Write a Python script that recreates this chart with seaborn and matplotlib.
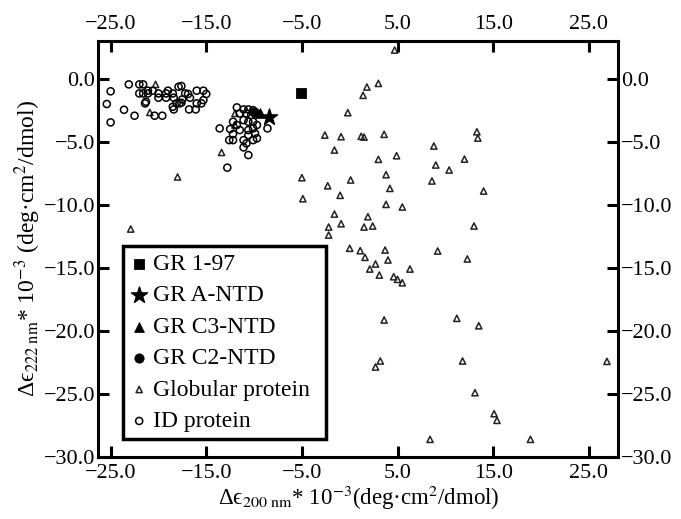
import numpy as np
import pandas as pd
from matplotlib import pyplot as plt
import seaborn as sns

# ID proteins (open circles)
id_x = [-25.0, -25.4, -25.0, -23.6, -23.1, -22.0, -21.6, -22.0, -21.6, -21.1,
        -21.1, -20.6, -20.0, -20.0, -19.2, -19.0, -19.2, -21.3, -21.4, -22.5,
        -20.4, -19.6, -18.5, -17.9, -17.6, -18.4, -17.8, -17.2, -16.9, -16.7,
        -18.5, -18.4, -18.1, -17.5, -17.6, -16.0, -15.3, -15.0, -15.3, -16.0,
        -16.8, -16.1, -15.5,
        -11.8, -11.1, -10.6, -10.1, -11.5, -10.8, -10.3, -9.7, -12.2, -11.8,
        -11.1, -10.6, -10.1, -9.7, -13.6, -12.5, -11.5, -10.6, -10.1, -10.6,
        -9.9, -9.7, -12.2, -12.6, -12.2, -11.1, -10.8, -10.1, -11.1, -10.6,
        -12.8, -8.6]
id_y = [-0.95, -1.96, -3.42, -2.42, -0.40, -0.40, -0.40, -1.12, -1.12, -0.90,
        -1.12, -0.90, -1.12, -1.46, -1.12, -0.90, -1.46, -1.78, -1.91, -2.89,
        -2.89, -2.89, -1.12, -0.59, -0.53, -1.46, -1.91, -1.12, -1.16, -1.46,
        -2.18, -2.39, -1.91, -1.59, -1.86, -0.90, -0.90, -1.16, -1.65, -1.91,
        -2.39, -2.39, -1.91,
        -2.23, -2.39, -2.39, -2.45, -2.71, -2.71, -2.84, -2.71, -3.37, -3.63,
        -3.24, -3.37, -3.37, -3.63, -3.90, -3.95, -4.03, -4.03, -3.90, -4.43,
        -4.30, -4.69, -4.35, -4.83, -4.83, -4.83, -5.09, -4.83, -5.41, -6.02,
        -7.02, -3.90]

# globular proteins (open triangles)
glob_x = [-20.3, -20.9, -12.0, -12.0, -13.4, -18.0, -22.9,
          4.7, 3.0, 1.8, 1.4, -0.2, -2.6, -0.9, 1.2, 1.5, 3.6, -1.6, 3.0, 4.9,
          8.8, 13.3, 13.4, 12.0, 9.0, 10.4, 8.6, 14.0, -5.0, -4.9, -2.3, 0.1,
          -1.0, 3.8, 4.2, 3.8, 5.5, -1.6, -0.9, -2.2, -2.2, 1.9, 1.5, 2.4, 13.0,
          0.0, 1.1, 1.6, 3.7, 4.0, 2.7, 2.1, 3.1, 6.3, 4.6, 5.0, 5.5, 9.2, 12.3,
          3.6, 11.2, 13.5, 3.2, 2.7, 11.8, 13.1, 15.1, 15.4, 8.4, 26.9, 18.9]
glob_y = [-0.40, -2.63, -2.71, -3.63, -5.81, -7.76, -11.90,
          2.33, -0.32, -0.61, -1.27, -2.65, -4.43, -4.56, -4.53, -4.59, -4.37,
          -5.62, -6.36, -6.07, -5.30, -4.17, -4.67, -6.34, -6.81, -7.21, -8.08,
          -8.88, -7.82, -9.49, -8.46, -8.00, -9.22, -7.58, -8.67, -9.94, -10.15,
          -10.71, -11.48, -11.74, -12.38, -10.92, -11.74, -11.66, -11.66,
          -13.43, -13.62, -14.15, -13.57, -14.36, -14.68, -15.08, -15.56, -15.08,
          -15.69, -15.90, -16.17, -13.65, -14.28, -19.13, -19.00, -19.59, -22.39,
          -22.87, -22.39, -24.91, -26.58, -27.11, -28.62, -22.42, -28.62]

# GR constructs
gr197_x, gr197_y = [-5.1], [-1.07]
grantd_x, grantd_y = [-8.4], [-2.97]
grc3_x, grc3_y = [-9.4], [-2.68]
grc2_x, grc2_y = [-10.0], [-2.62]

x_ticks = [-25, -15, -5, 5, 15, 25]
y_ticks = [0, -5, -10, -15, -20, -25, -30]

plt.rcParams['font.family'] = ['Liberation Serif', 'DejaVu Serif']
plt.rcParams['mathtext.fontset'] = 'stix'

fig = plt.figure(figsize=(6.81, 5.19), dpi=100)
ax = fig.add_axes([0.1442, 0.120, 0.7639, 0.8015])

df_id = pd.DataFrame({'x': id_x, 'y': id_y})
df_gl = pd.DataFrame({'x': glob_x, 'y': glob_y})

sns.scatterplot(data=df_gl, x='x', y='y', marker='^', s=20, facecolor='none',
                edgecolor='#222222', linewidth=1.1, ax=ax, label='Globular protein')
sns.scatterplot(data=df_id, x='x', y='y', marker='o', s=26, facecolor='none',
                edgecolor='black', linewidth=1.1, ax=ax, label='ID protein')
sns.scatterplot(x=gr197_x, y=gr197_y, marker='s', s=55, color='black',
                edgecolor='black', ax=ax, label='GR 1-97')
sns.scatterplot(x=grc2_x, y=grc2_y, marker='o', s=45, color='black',
                edgecolor='black', ax=ax, label='GR C2-NTD')
sns.scatterplot(x=grc3_x, y=grc3_y, marker='^', s=50, color='black',
                edgecolor='black', ax=ax, label='GR C3-NTD')
sns.scatterplot(x=grantd_x, y=grantd_y, marker='*', s=150, color='black',
                edgecolor='black', ax=ax, label='GR A-NTD')

ax.set_xlim(-26.3, 28.1)
ax.set_ylim(-30, 3.07)
ax.set_xticks(x_ticks)
ax.set_xticklabels([f'{v:.1f}'.replace('-', '\u2212') for v in x_ticks])
ax.set_yticks(y_ticks)
ax.set_yticklabels([f'{v:.1f}'.replace('-', '\u2212') for v in y_ticks])
ax.tick_params(axis='both', which='both', direction='in', length=8, width=2.2,
               labelsize=16, top=True, right=True, labeltop=True, labelright=True)
ax.tick_params(axis='x', pad=5)
ax.tick_params(axis='y', pad=2)
for sp in ax.spines.values():
    sp.set_linewidth(2.2)

ax.set_xlabel('\u0394\u03f5$_{200\\ \\mathrm{nm}}$* 10$^{-3}$(deg\u00b7cm$^2$/dmol)',
              fontsize=16.5, labelpad=1)
ax.set_ylabel('\u0394\u03f5$_{222\\ \\mathrm{nm}}$* 10$^{-3}$ (deg\u00b7cm$^2$/dmol)',
              fontsize=17, labelpad=1)

handles, labels = ax.get_legend_handles_labels()
order = ['GR 1-97', 'GR A-NTD', 'GR C3-NTD', 'GR C2-NTD', 'Globular protein', 'ID protein']
hmap = dict(zip(labels, handles))
leg = ax.legend([hmap[k] for k in order], order, loc='lower left',
                bbox_to_anchor=(0.047, 0.042, 0.391, 0.47), mode='expand',
                fontsize=17, frameon=True, fancybox=False, framealpha=1,
                edgecolor='black', handletextpad=0.2, handlelength=0.8,
                labelspacing=0.42, borderpad=0.3, borderaxespad=0)
leg.get_frame().set_linewidth(2.5)

fig.savefig('out.png', dpi=100)
